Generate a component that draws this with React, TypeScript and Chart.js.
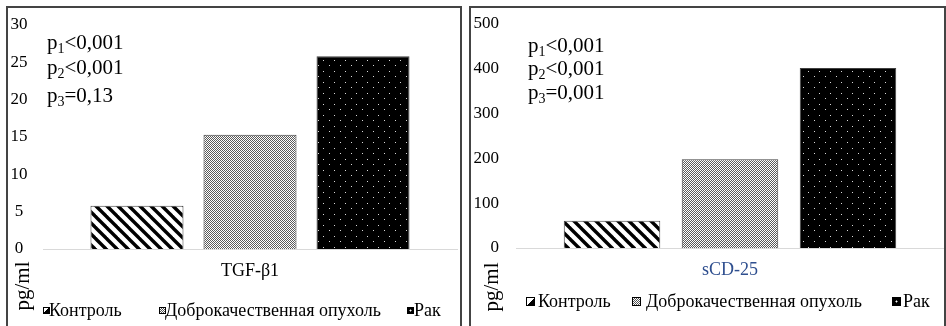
import React, { useEffect, useRef } from "react";
import { Chart, registerables } from "chart.js";
Chart.register(...registerables);

// ---------- data ----------
const groups = ["Контроль", "Доброкачественная опухоль", "Рак"];
const tgfCategory = ["TGF-β1"];
const tgfValues = [5.8, 15.3, 25.8];
const tgfMax = 30;
const tgfStep = 5;
const tgfPValues = [["1", "<0,001"], ["2", "<0,001"], ["3", "=0,13"]];
const scdCategory = ["sCD-25"];
const scdValues = [61, 198, 402];
const scdMax = 500;
const scdStep = 100;
const scdPValues = [["1", "<0,001"], ["2", "<0,001"], ["3", "=0,001"]];
const unitLabel = "pg/ml";

const FONT = '"Liberation Serif", "Times New Roman", Times, serif';

function makePattern(kind: number): CanvasPattern | string {
  const c = document.createElement("canvas");
  const ctx = c.getContext("2d");
  if (!ctx) return "#888";
  if (kind === 0) {
    const s = 11;
    c.width = s; c.height = s;
    ctx.fillStyle = "#fff"; ctx.fillRect(0, 0, s, s);
    ctx.strokeStyle = "#000"; ctx.lineWidth = 3.4;
    for (const o of [-s, 0, s]) {
      ctx.beginPath();
      ctx.moveTo(o - 3, -3);
      ctx.lineTo(o + s + 3, s + 3);
      ctx.stroke();
    }
  } else if (kind === 1) {
    const s = 4;
    c.width = s; c.height = s;
    ctx.fillStyle = "#fff"; ctx.fillRect(0, 0, s, s);
    ctx.fillStyle = "#5a5a5a";
    for (let x = 0; x < s; x++) for (let y = 0; y < s; y++) if ((x + y) % 2 === 0) ctx.fillRect(x, y, 1, 1);
  } else {
    const s = 11;
    c.width = s; c.height = s;
    ctx.fillStyle = "#000"; ctx.fillRect(0, 0, s, s);
    ctx.fillStyle = "#d8d8d8";
    ctx.fillRect(2, 2, 1, 1);
    ctx.fillRect(7, 8, 1, 1);
  }
  return ctx.createPattern(c, "repeat") || "#888";
}

type Layout = {
  panelLeft: number; panelWidth: number;
  canvasLeft: number; canvasWidth: number;
  yWidth: number; padTop: number; padRight: number; padBottom: number; xHeight: number;
  tickPad: number; crossAlign: "near" | "center" | "far";
  cp: number; bp: number;
  pX: number; pTops: number[];
  unitCx: number; unitCy: number;
  legendY: number; legendItems: number[][]; swatch: number;
  catColor: string;
};

const leftLayout: Layout = {
  panelLeft: 6, panelWidth: 456, canvasLeft: 8, canvasWidth: 452,
  yWidth: 35, padTop: 17, padRight: 3, padBottom: 44, xHeight: 33,
  tickPad: 15.5, crossAlign: "center", cp: 0.819, bp: 0.823,
  pX: 47, pTops: [32, 57, 85], unitCx: 21.5, unitCy: 286,
  legendY: 310, legendItems: [[43, 49], [159, 165], [407, 414]], swatch: 7,
  catColor: "#000",
};
const rightLayout: Layout = {
  panelLeft: 469, panelWidth: 477, canvasLeft: 471, canvasWidth: 473,
  yWidth: 45, padTop: 16, padRight: 0, padBottom: 45, xHeight: 33,
  tickPad: 17, crossAlign: "near", cp: 0.827, bp: 0.818,
  pX: 528, pTops: [35, 58, 81.5], unitCx: 491, unitCy: 287,
  legendY: 301, legendItems: [[526, 538], [632, 646], [892, 903]], swatch: 9,
  catColor: "#2f4f8f",
};

const swatchStyles: React.CSSProperties[] = [
  { background: "linear-gradient(to bottom right, #fff 50%, #000 50%)" },
  { background: "repeating-conic-gradient(#555 0 25%, #fff 0 50%) 0 0 / 2px 2px" },
  { background: "radial-gradient(circle, #fff 0 0.8px, #000 1.2px)" },
];

function Panel(props: { category: string[]; values: number[]; max: number; step: number; pValues: string[][]; L: Layout }) {
  const { category, values, max, step, pValues, L } = props;
  const ref = useRef<HTMLCanvasElement>(null);
  useEffect(() => {
    if (!ref.current) return;
    const patterns = [0, 1, 2].map(makePattern);
    const chart = new Chart(ref.current, {
      type: "bar",
      data: {
        labels: category,
        datasets: groups.map((g, i) => ({
          label: g,
          data: [values[i]],
          backgroundColor: patterns[i] as any,
          borderColor: "#404040",
          borderWidth: 1,
          categoryPercentage: L.cp,
          barPercentage: L.bp,
        })),
      },
      options: {
        animation: false,
        responsive: false,
        maintainAspectRatio: false,
        layout: { padding: { top: L.padTop, right: L.padRight, bottom: L.padBottom, left: 0 } },
        plugins: { legend: { display: false }, tooltip: { enabled: false } },
        scales: {
          x: {
            grid: { display: false, drawTicks: false },
            border: { display: true, color: "#d9d9d9", width: 1 },
            ticks: { color: L.catColor, font: { family: FONT, size: 18 }, padding: 11 },
            afterFit: (s: any) => { s.height = L.xHeight; s.paddingLeft = 0; s.paddingRight = 0; },
          },
          y: {
            min: 0, max,
            grid: { display: false, drawTicks: false },
            border: { display: false },
            ticks: { stepSize: step, color: "#000", font: { family: FONT, size: 17 }, padding: L.tickPad, crossAlign: L.crossAlign },
            afterFit: (s: any) => { s.width = L.yWidth; s.paddingTop = 0; s.paddingBottom = 0; },
          },
        },
      } as any,
    });
    return () => chart.destroy();
  }, []);

  return (
    <>
      <div style={{ position: "absolute", left: L.panelLeft, top: 6, width: L.panelWidth, height: 340, border: "2px solid #444", borderBottom: "none", boxSizing: "border-box" }} />
      <canvas ref={ref} width={L.canvasWidth} height={318} style={{ position: "absolute", left: L.canvasLeft, top: 8, width: L.canvasWidth, height: 318 }} />
      {pValues.map((p, i) => (
        <div key={i} style={{ position: "absolute", left: L.pX, top: L.pTops[i], fontFamily: FONT, fontSize: 21, lineHeight: "20px", color: "#000", whiteSpace: "nowrap" }}>
          p<span style={{ fontSize: 14, position: "relative", top: 4 }}>{p[0]}</span>{p[1]}
        </div>
      ))}
      <div style={{ position: "absolute", left: L.unitCx - 40, top: L.unitCy - 10, width: 80, height: 20, lineHeight: "20px", textAlign: "center", fontFamily: FONT, fontSize: 21, color: "#000", transform: "rotate(-90deg)", whiteSpace: "nowrap" }}>
        {unitLabel}
      </div>
      {groups.map((g, i) => (
        <React.Fragment key={g}>
          <div style={{ position: "absolute", left: L.legendItems[i][0], top: L.legendY - L.swatch / 2, width: L.swatch, height: L.swatch, border: "1px solid #000", boxSizing: "border-box", ...swatchStyles[i] }} />
          <div style={{ position: "absolute", left: L.legendItems[i][1], top: L.legendY - 10, lineHeight: "20px", fontFamily: FONT, fontSize: 18, color: "#000", whiteSpace: "nowrap" }}>{g}</div>
        </React.Fragment>
      ))}
    </>
  );
}

export default function App() {
  return (
    <div style={{ position: "fixed", left: 0, top: 0, width: 946, height: 326, background: "#fff", overflow: "hidden" }}>
      <Panel category={tgfCategory} values={tgfValues} max={tgfMax} step={tgfStep} pValues={tgfPValues} L={leftLayout} />
      <Panel category={scdCategory} values={scdValues} max={scdMax} step={scdStep} pValues={scdPValues} L={rightLayout} />
    </div>
  );
}
